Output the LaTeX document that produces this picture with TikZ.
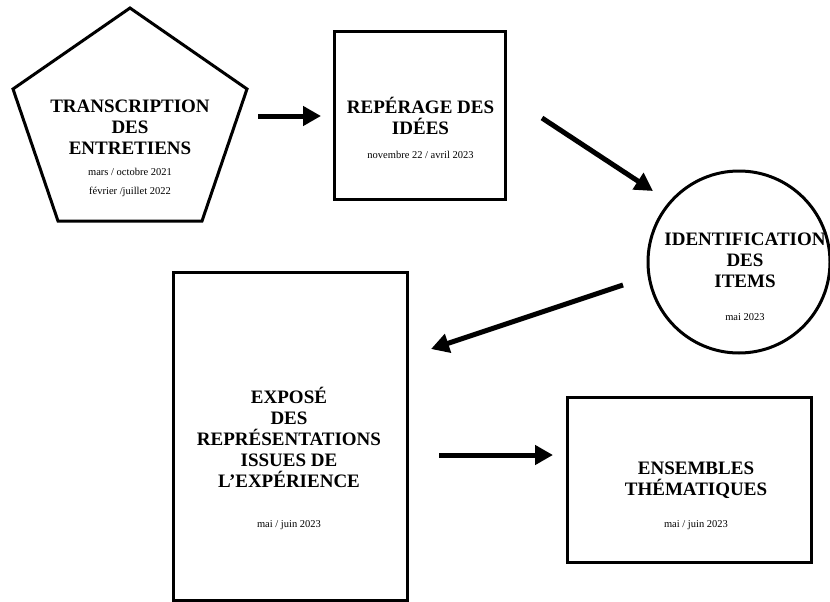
\documentclass[tikz,border=0pt]{standalone}
\usepackage{fontspec}
\setmainfont{Liberation Serif}
\usetikzlibrary{arrows.meta}
\begin{document}
\begin{tikzpicture}[x=1pt,y=-1pt,
  shapeline/.style={draw=black,line width=3pt},
  ttl/.style={inner sep=0pt,align=center,font=\fontsize{19}{21}\selectfont\bfseries},
  dte/.style={inner sep=0pt,align=center,font=\fontsize{10.5}{19}\selectfont},
  flow/.style={line width=5pt,-{Triangle[length=18pt,width=19pt]}}]
\useasboundingbox (0,0) rectangle (830,602);
% pentagon
\draw[shapeline,line join=miter] (130,8) -- (247,89) -- (202,221) -- (58,221) -- (13,89) -- cycle;
\node[ttl] (t1) at (130,127) {TRANSCRIPTION\\DES\\ENTRETIENS};
\node[dte] (d1) at (130,182.5) {mars / octobre 2021\\février /juillet 2022};
% square
\node[shapeline,minimum width=171pt,minimum height=167pt,inner sep=0pt] (rep) at (419.5,115.5) {};
\node[ttl] (t2) at (420.5,116) {REPÉRAGE DES\\IDÉES};
\node[dte] (d2) at (420.5,155) {novembre 22 / avril 2023};
% circle
\node[shapeline,circle,minimum size=182pt,inner sep=0pt] (idc) at (739,262) {};
\node[ttl] (t3) at (745,260) {IDENTIFICATION\\DES\\ITEMS};
\node[dte] (d3) at (745,317) {mai 2023};
% tall rectangle
\node[shapeline,minimum width=234pt,minimum height=328pt,inner sep=0pt] (exp) at (290,436) {};
\node[ttl] (t4) at (289,437) {EXPOSÉ\\DES\\REPRÉSENTATIONS\\ISSUES DE\\L’EXPÉRIENCE};
\node[dte] (d4) at (289,525) {mai / juin 2023};
% ensembles
\node[shapeline,minimum width=244pt,minimum height=165pt,inner sep=0pt] (ens) at (689,479.5) {};
\node[ttl] (t5) at (696,480) {ENSEMBLES\\THÉMATIQUES};
\node[dte] (d5) at (696,525) {mai / juin 2023};
% arrows
\coordinate (a1s) at (258,116); \coordinate (a1e) at (321,116);
\coordinate (a2s) at (542,118); \coordinate (a2e) at (653,191);
\coordinate (a3s) at (623,285); \coordinate (a3e) at (431,349);
\coordinate (a4s) at (439,455); \coordinate (a4e) at (553,455);
\draw[flow] (a1s) -- (a1e);
\draw[flow] (a2s) -- (a2e);
\draw[flow] (a3s) -- (a3e);
\draw[flow] (a4s) -- (a4e);
\end{tikzpicture}
\end{document}
